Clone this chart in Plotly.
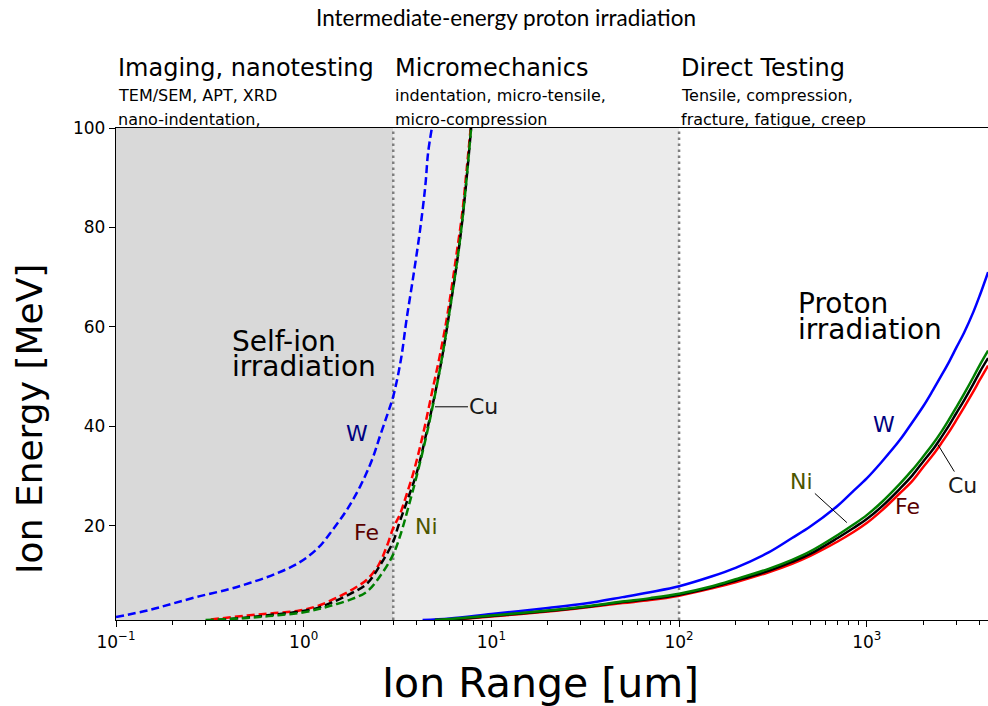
import numpy as np
import plotly.graph_objects as go

# ---------------- data ----------------
# Self-ion irradiation (dashed)
w_self_x = [0.1, 0.15, 0.2, 0.28, 0.4, 0.52, 0.7, 0.95, 1.2, 1.43, 1.7, 2.0, 2.3, 2.55, 2.8, 3.0, 3.3, 3.53, 3.85, 4.17, 4.45, 4.6, 4.82]
w_self_y = [1.6, 3.0, 4.3, 5.8, 7.2, 8.5, 10.2, 12.6, 15.6, 19.2, 23.2, 27.9, 33.0, 38.0, 42.5, 46.0, 53.5, 61.4, 70.5, 79.5, 88.5, 95.0, 100.0]

fe_self_x = [0.32, 0.5, 0.7, 0.95, 1.2, 1.56, 1.9, 2.17, 2.5, 2.77, 3.0, 3.26, 3.55, 3.84, 4.3, 4.9, 5.3, 5.77, 6.15, 6.53, 7.0, 7.38, 7.76]
fe_self_y = [1.1, 1.9, 2.4, 2.9, 3.9, 5.8, 7.6, 9.1, 12.0, 15.8, 19.5, 22.3, 26.5, 30.6, 38.0, 48.0, 54.0, 61.4, 68.0, 74.8, 83.0, 91.6, 100.0]

cu_self_x = [0.35, 0.5, 0.7, 0.95, 1.2, 1.43, 1.8, 2.17, 2.55, 3.0, 3.19, 3.6, 4.0, 4.5, 5.1, 5.5, 5.89, 6.3, 6.7, 7.1, 7.45, 7.8]
cu_self_y = [1.0, 1.5, 2.1, 2.7, 3.5, 4.6, 6.4, 8.3, 12.0, 16.8, 19.9, 25.5, 30.6, 38.5, 48.0, 54.5, 61.4, 68.5, 75.5, 83.5, 91.5, 100.0]

ni_self_x = [0.3, 0.5, 0.7, 0.95, 1.2, 1.43, 1.8, 2.17, 2.55, 3.0, 3.3, 3.6, 4.0, 4.5, 5.1, 5.5, 5.89, 6.3, 6.7, 7.1, 7.45, 7.8]
ni_self_y = [1.0, 1.4, 1.9, 2.4, 3.2, 4.0, 5.2, 6.7, 9.8, 14.2, 18.5, 23.5, 30.0, 38.0, 47.8, 54.5, 61.4, 68.5, 75.5, 83.5, 91.5, 100.0]

# Proton irradiation (solid)
w_prot_x = [4.3, 6, 10, 20, 31.6, 50, 70, 100, 150, 200, 300, 400, 500, 700, 850, 1000, 1200, 1500, 1750, 2000, 2250, 2500, 2750, 3000, 3300, 3700, 4000, 4430]
w_prot_y = [1.0, 1.3, 2.2, 3.4, 4.3, 5.6, 6.6, 7.8, 9.8, 11.5, 14.6, 17.5, 19.8, 24.0, 27.0, 29.5, 32.8, 37.2, 40.8, 44.0, 47.2, 50.2, 53.0, 55.8, 58.8, 63.0, 66.3, 71.0]

fe_prot_x = [6, 10, 20, 31.6, 50, 70, 100, 150, 200, 300, 400, 500, 700, 850, 1000, 1200, 1500, 1750, 2000, 2250, 2500, 2750, 3000, 3300, 3700, 4000, 4430]
fe_prot_y = [1.0, 1.7, 2.7, 3.5, 4.4, 5.0, 5.9, 7.4, 8.6, 10.6, 12.3, 13.9, 16.8, 18.7, 20.5, 23.0, 26.5, 29.0, 31.8, 34.2, 36.6, 38.9, 41.2, 43.8, 47.0, 49.3, 52.2]

cu_prot_x = [5, 6, 10, 20, 31.6, 50, 70, 100, 150, 200, 300, 400, 500, 700, 850, 1000, 1200, 1500, 1750, 2000, 2250, 2500, 2750, 3000, 3300, 3700, 4000, 4430]
cu_prot_y = [1.0, 1.1, 1.8, 2.8, 3.6, 4.6, 5.2, 6.1, 7.6, 8.9, 10.9, 12.7, 14.3, 17.5, 19.5, 21.3, 23.8, 27.4, 30.1, 32.9, 35.3, 37.8, 40.2, 42.6, 45.2, 48.5, 50.9, 53.7]

ni_prot_x = [5, 6, 10, 20, 31.6, 50, 70, 100, 150, 200, 300, 400, 500, 700, 850, 1000, 1200, 1500, 1750, 2000, 2250, 2500, 2750, 3000, 3300, 3700, 4000, 4430]
ni_prot_y = [1.0, 1.2, 1.9, 2.9, 3.7, 4.7, 5.4, 6.3, 7.8, 9.2, 11.3, 13.1, 14.8, 18.1, 20.2, 22.1, 24.7, 28.4, 31.2, 33.9, 36.4, 38.9, 41.4, 43.8, 46.5, 49.9, 52.3, 55.2]

# Regions and ticks
region_edges = [0.1, 3, 100]
x_tickvals = [0.1, 1, 10, 100, 1000]
x_ticktext = ["10<sup>\u22121</sup>", "10<sup>0</sup>", "10<sup>1</sup>", "10<sup>2</sup>", "10<sup>3</sup>"]
x_minor_vals = [k * d for d in [0.1, 1, 10, 100, 1000] for k in range(2, 10) if k * d < 4430]
y_tickvals = [20, 40, 60, 80, 100]

FONT = "DejaVu Sans"
BLUE, RED, BLACK, GREEN = "#0000ff", "#ff0000", "#000000", "#008000"
DASH = "8px,4px"
LW = 2.5

fig = go.Figure()

for xs, ys, c in [(w_self_x, w_self_y, BLUE), (fe_self_x, fe_self_y, RED),
                  (cu_self_x, cu_self_y, BLACK), (ni_self_x, ni_self_y, GREEN)]:
    fig.add_trace(go.Scatter(x=xs, y=ys, mode="lines", line=dict(color=c, width=LW, dash=DASH, shape="spline", smoothing=1.0),
                             showlegend=False, hoverinfo="skip"))

for xs, ys, c in [(w_prot_x, w_prot_y, BLUE), (fe_prot_x, fe_prot_y, RED),
                  (cu_prot_x, cu_prot_y, BLACK), (ni_prot_x, ni_prot_y, GREEN)]:
    fig.add_trace(go.Scatter(x=xs, y=ys, mode="lines", line=dict(color=c, width=LW, shape="spline", smoothing=1.0),
                             showlegend=False, hoverinfo="skip"))

# shaded regions (shapes use raw data values on log axes)
fig.add_shape(type="rect", xref="x", yref="paper", x0=region_edges[0], x1=region_edges[1], y0=0, y1=1,
              fillcolor="#d9d9d9", line_width=0, layer="below")
fig.add_shape(type="rect", xref="x", yref="paper", x0=region_edges[1], x1=region_edges[2], y0=0, y1=1,
              fillcolor="#ebebeb", line_width=0, layer="below")
for xv in region_edges[1:]:
    fig.add_shape(type="line", xref="x", yref="paper", x0=xv, x1=xv, y0=0, y1=1,
                  line=dict(color="#7f7f7f", width=2.5, dash="2.5px,3.5px"), layer="below")

ann = []
def lx(v):
    return np.log10(v)

# Title and category texts
ann.append(dict(text="Intermediate-energy proton irradiation", xref="paper", yref="paper",
                x=(506 - 116) / 872, y=(620 - 17) / 492, showarrow=False, xanchor="center", yanchor="middle",
                font=dict(family="Lato", size=22.5, color="black")))
cats = [("Imaging, nanotesting", "TEM/SEM, APT, XRD", "nano-indentation,"),
        ("Micromechanics", "indentation, micro-tensile,", "micro-compression"),
        ("Direct Testing", "Tensile, compression,", "fracture, fatigue, creep")]
for xv, (t1, t2, t3) in zip(region_edges, cats):
    ann.append(dict(text=t1, xref="x", yref="paper", x=lx(xv), y=(620 - 68) / 492, showarrow=False,
                    xanchor="left", yanchor="middle", font=dict(family=FONT, size=24, color="black")))
    ann.append(dict(text=t2, xref="x", yref="paper", x=lx(xv), y=(620 - 95.5) / 492, showarrow=False,
                    xanchor="left", yanchor="middle", font=dict(family=FONT, size=16, color="black")))
    ann.append(dict(text=t3, xref="x", yref="paper", x=lx(xv), y=(620 - 120) / 492, showarrow=False,
                    xanchor="left", yanchor="middle", font=dict(family=FONT, size=16, color="black")))

# region labels
for t, yv in [("Self-ion", 57.0), ("irradiation", 52.0)]:
    ann.append(dict(text=t, x=-0.393, y=yv, xref="x", yref="y", showarrow=False, xanchor="left", yanchor="middle",
                    font=dict(family=FONT, size=28, color="black")))
for t, yv in [("Proton", 64.6), ("irradiation", 59.4)]:
    ann.append(dict(text=t, x=2.623, y=yv, xref="x", yref="y", showarrow=False, xanchor="left", yanchor="middle",
                    font=dict(family=FONT, size=28, color="black")))

W_C, FE_C, NI_C, CU_C = "#000080", "#5a0000", "#4d5500", "#1a1a1a"
LS = 22
# self-ion material labels
ann.append(dict(text="W", x=0.284, y=38.5, showarrow=False, font=dict(family=FONT, size=LS, color=W_C)))
ann.append(dict(text="Fe", x=0.332, y=18.6, showarrow=False, font=dict(family=FONT, size=LS, color=FE_C)))
ann.append(dict(text="Ni", x=0.652, y=19.8, showarrow=False, font=dict(family=FONT, size=LS, color=NI_C)))
ann.append(dict(text="Cu", x=0.6995, y=43.9, showarrow=True, ax=49, ay=0, arrowhead=0, arrowwidth=1,
                arrowcolor="black", standoff=0, font=dict(family=FONT, size=LS, color=CU_C)))
# proton material labels
ann.append(dict(text="W", x=3.092, y=40.3, showarrow=False, font=dict(family=FONT, size=LS, color=W_C)))
ann.append(dict(text="Fe", x=3.219, y=23.8, showarrow=False, font=dict(family=FONT, size=LS, color=FE_C)))
ann.append(dict(text="Ni", x=2.894, y=20.6, showarrow=True, ax=-45, ay=-41, arrowhead=0, arrowwidth=1,
                arrowcolor="black", standoff=0, font=dict(family=FONT, size=LS, color=NI_C)))
ann.append(dict(text="Cu", x=3.379, y=36.3, showarrow=True, ax=25, ay=41, arrowhead=0, arrowwidth=1,
                arrowcolor="black", standoff=0, font=dict(family=FONT, size=LS, color=CU_C)))

# axis titles
ann.append(dict(text="Ion Energy [MeV]", xref="paper", yref="paper", x=(29 - 116) / 872, y=(620 - 419) / 492,
                textangle=-90, showarrow=False, xanchor="center", yanchor="middle",
                font=dict(family=FONT, size=36, color="black")))
ann.append(dict(text="Ion Range [um]", xref="paper", yref="paper", x=(540 - 116) / 872, y=(620 - 683) / 492,
                showarrow=False, xanchor="center", yanchor="middle",
                font=dict(family=FONT, size=41, color="black")))

fig.update_layout(
    width=988, height=706,
    margin=dict(l=116, r=0, t=128, b=86),
    paper_bgcolor="white", plot_bgcolor="white",
    showlegend=False,
    annotations=ann,
    xaxis=dict(type="log", range=[-1, 3.646], showgrid=False, zeroline=False,
               showline=True, linecolor="black", linewidth=1.3, mirror=True,
               ticks="outside", ticklen=6, tickwidth=1.2, tickcolor="black",
               tickvals=x_tickvals, ticktext=x_ticktext,
               tickfont=dict(family=FONT, size=17, color="black"),
               minor=dict(ticks="outside", ticklen=3.5, tickwidth=1, tickcolor="black", showgrid=False,
                          tickvals=x_minor_vals)),
    yaxis=dict(range=[1, 100], showgrid=False, zeroline=False,
               showline=True, linecolor="black", linewidth=1.3,
               ticks="outside", ticklen=6, tickwidth=1.2, tickcolor="black",
               tickvals=y_tickvals, tickfont=dict(family=FONT, size=17, color="black")),
)

fig.write_html("out.html", config={"displayModeBar": False},
               post_script="document.body.style.margin='0px';document.body.style.overflow='hidden';")
